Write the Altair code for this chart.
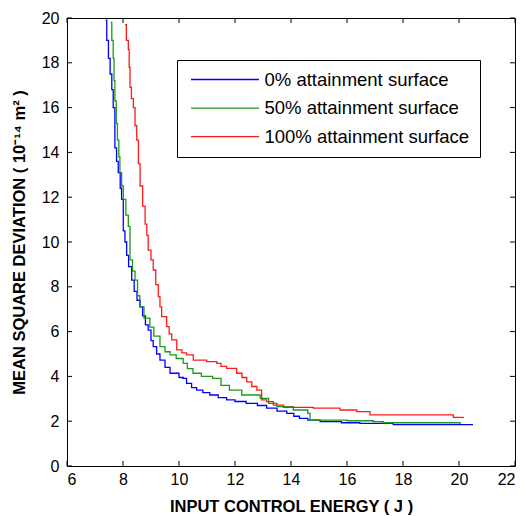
import altair as alt
import pandas as pd

# ---- data ----
series_names = ["0% attainment surface", "50% attainment surface", "100% attainment surface"]
series_colors = ["#0000FF", "#1A9A1A", "#FF1A1A"]

blue_x = [7.38, 7.42, 7.48, 7.54, 7.60, 7.65, 7.71, 7.77, 7.83, 7.90, 7.95, 8.01, 8.07, 8.13,
          8.20, 8.31, 8.40, 8.50, 8.61, 8.70, 8.80, 8.90, 9.00, 9.08, 9.20, 9.32, 9.50, 9.68,
          10.00, 10.15, 10.27, 10.45, 10.63, 10.85, 11.10, 11.40, 11.70, 12.00, 12.40, 12.80,
          13.13, 13.50, 13.85, 14.10, 14.30, 14.60, 15.04, 15.80, 16.46, 17.65, 20.50]
blue_y = [19.9, 19.0, 18.2, 17.5, 16.8, 16.0, 14.2, 13.6, 13.1, 12.4, 11.9, 10.5, 10.0, 9.4,
          8.9, 8.3, 7.8, 7.4, 7.1, 6.7, 6.3, 6.07, 5.6, 5.33, 5.0, 4.73, 4.4, 4.14,
          3.95, 3.91, 3.69, 3.5, 3.39, 3.28, 3.17, 3.05, 2.95, 2.88, 2.80, 2.70,
          2.58, 2.45, 2.35, 2.22, 2.13, 2.05, 1.98, 1.93, 1.90, 1.85, 1.85]

green_x = [7.56, 7.60, 7.65, 7.68, 7.71, 7.76, 7.80, 7.85, 7.89, 7.95, 8.01, 8.10, 8.19, 8.25,
           8.34, 8.43, 8.52, 8.60, 8.75, 8.96, 9.10, 9.32, 9.50, 9.68, 9.90, 10.15, 10.30,
           10.50, 10.80, 11.20, 11.50, 11.80, 12.24, 12.90, 13.20, 13.50, 14.08, 14.60, 14.68,
           16.00, 16.94, 17.30, 18.50, 20.04]
green_y = [19.8, 19.0, 18.2, 17.2, 16.3, 15.3, 14.55, 13.8, 13.1, 12.5, 11.9, 11.2, 10.7, 9.2,
           8.7, 8.3, 7.6, 7.1, 6.6, 6.2, 5.8, 5.33, 5.1, 4.96, 4.8, 4.58, 4.35,
           4.14, 4.0, 3.91, 3.6, 3.39, 3.17, 3.02, 2.8, 2.65, 2.5, 2.35, 2.05,
           2.02, 1.98, 1.93, 1.93, 1.87]

red_x = [8.07, 8.12, 8.19, 8.22, 8.25, 8.30, 8.37, 8.43, 8.49, 8.55, 8.61, 8.70, 8.79, 8.85,
         8.90, 9.00, 9.08, 9.17, 9.26, 9.32, 9.38, 9.56, 9.65, 9.74, 9.92, 10.10, 10.27,
         10.51, 10.99, 11.35, 11.50, 11.70, 12.06, 12.25, 12.42, 12.60, 12.78, 12.95, 13.13,
         13.37, 13.73, 14.80, 15.75, 16.35, 16.82, 19.44, 19.80, 20.15]
red_y = [19.7, 19.0, 18.6, 17.8, 16.9, 16.4, 16.0, 15.2, 14.55, 13.5, 12.5, 11.6, 10.8, 10.3,
         9.64, 9.2, 8.75, 8.1, 7.56, 7.1, 6.67, 6.22, 5.9, 5.63, 5.18, 5.05, 4.96,
         4.73, 4.66, 4.58, 4.45, 4.36, 4.14, 3.95, 3.76, 3.55, 3.39, 2.95, 2.87,
         2.72, 2.62, 2.58, 2.5, 2.43, 2.28, 2.28, 2.17, 2.13]

x_ticks = [6, 8, 10, 12, 14, 16, 18, 20, 22]
y_ticks = [0, 2, 4, 6, 8, 10, 12, 14, 16, 18, 20]
x_title = "INPUT CONTROL ENERGY ( J )"
y_title = "MEAN SQUARE DEVIATION ( 10⁻¹⁴ m² )"

# ---- build table ----
rows = []
for name, xs, ys in zip(series_names, [blue_x, green_x, red_x], [blue_y, green_y, red_y]):
    for i, (x, y) in enumerate(zip(xs, ys)):
        rows.append({"energy": x, "msd": y, "series": name, "order": i})
df = pd.DataFrame(rows)

W, H = 448, 448
FONT = "Liberation Sans"
x_scale = alt.Scale(domain=[6, 22], nice=False, zero=False)
y_scale = alt.Scale(domain=[0, 20], nice=False, zero=False)
x_axis = alt.Axis(values=x_ticks, title=x_title)
y_axis = alt.Axis(values=y_ticks, title=y_title)

lines = alt.Chart(df).mark_line(interpolate="step-after", strokeWidth=1.3, clip=True).encode(
    x=alt.X("energy:Q", scale=x_scale, axis=x_axis, title=x_title),
    y=alt.Y("msd:Q", scale=y_scale, axis=y_axis, title=y_title),
    color=alt.Color("series:N",
                    scale=alt.Scale(domain=series_names, range=series_colors),
                    legend=alt.Legend(title=None, orient="none", legendX=110, legendY=42,
                                      symbolType="M-4,0H4", symbolSize=289,
                                      symbolStrokeWidth=1.3, symbolOffset=28.5,
                                      labelOffset=30, labelLimit=400, labelFont=FONT,
                                      labelFontSize=18.5, labelColor="black",
                                      strokeColor="black", fillColor="white",
                                      padding=10, rowPadding=9.6)),
    order="order:Q",
)

xt = pd.DataFrame({"t": x_ticks})
yt = pd.DataFrame({"t": y_ticks})
tick_len = 5
bottom_ticks = alt.Chart(xt).mark_rule(color="black", strokeWidth=1).encode(
    x=alt.X("t:Q", scale=x_scale, axis=x_axis, title=x_title),
    y=alt.value(H), y2=alt.value(H - tick_len))
top_ticks = alt.Chart(xt).mark_rule(color="black", strokeWidth=1).encode(
    x=alt.X("t:Q", scale=x_scale, axis=x_axis, title=x_title),
    y=alt.value(0), y2=alt.value(tick_len))
left_ticks = alt.Chart(yt).mark_rule(color="black", strokeWidth=1).encode(
    y=alt.Y("t:Q", scale=y_scale, axis=y_axis, title=y_title),
    x=alt.value(0), x2=alt.value(tick_len))
right_ticks = alt.Chart(yt).mark_rule(color="black", strokeWidth=1).encode(
    y=alt.Y("t:Q", scale=y_scale, axis=y_axis, title=y_title),
    x=alt.value(W), x2=alt.value(W - tick_len))

chart = alt.layer(lines, bottom_ticks, top_ticks, left_ticks, right_ticks).properties(
    width=W, height=H, autosize="none",
    padding={"left": 67, "top": 18, "right": 9, "bottom": 50},
    background="white",
).configure_view(stroke="black", strokeWidth=1).configure_axis(
    domain=False, ticks=False, grid=False,
    labelFont=FONT, labelFontSize=16, labelColor="black",
    titleFont=FONT, titleFontSize=16.5, titleFontWeight="bold", titleColor="black",
).configure_axisX(labelPadding=5, titlePadding=11).configure_axisY(labelPadding=8, titlePadding=14)

chart.save("out.html", embed_options={"renderer": "svg", "actions": False})
